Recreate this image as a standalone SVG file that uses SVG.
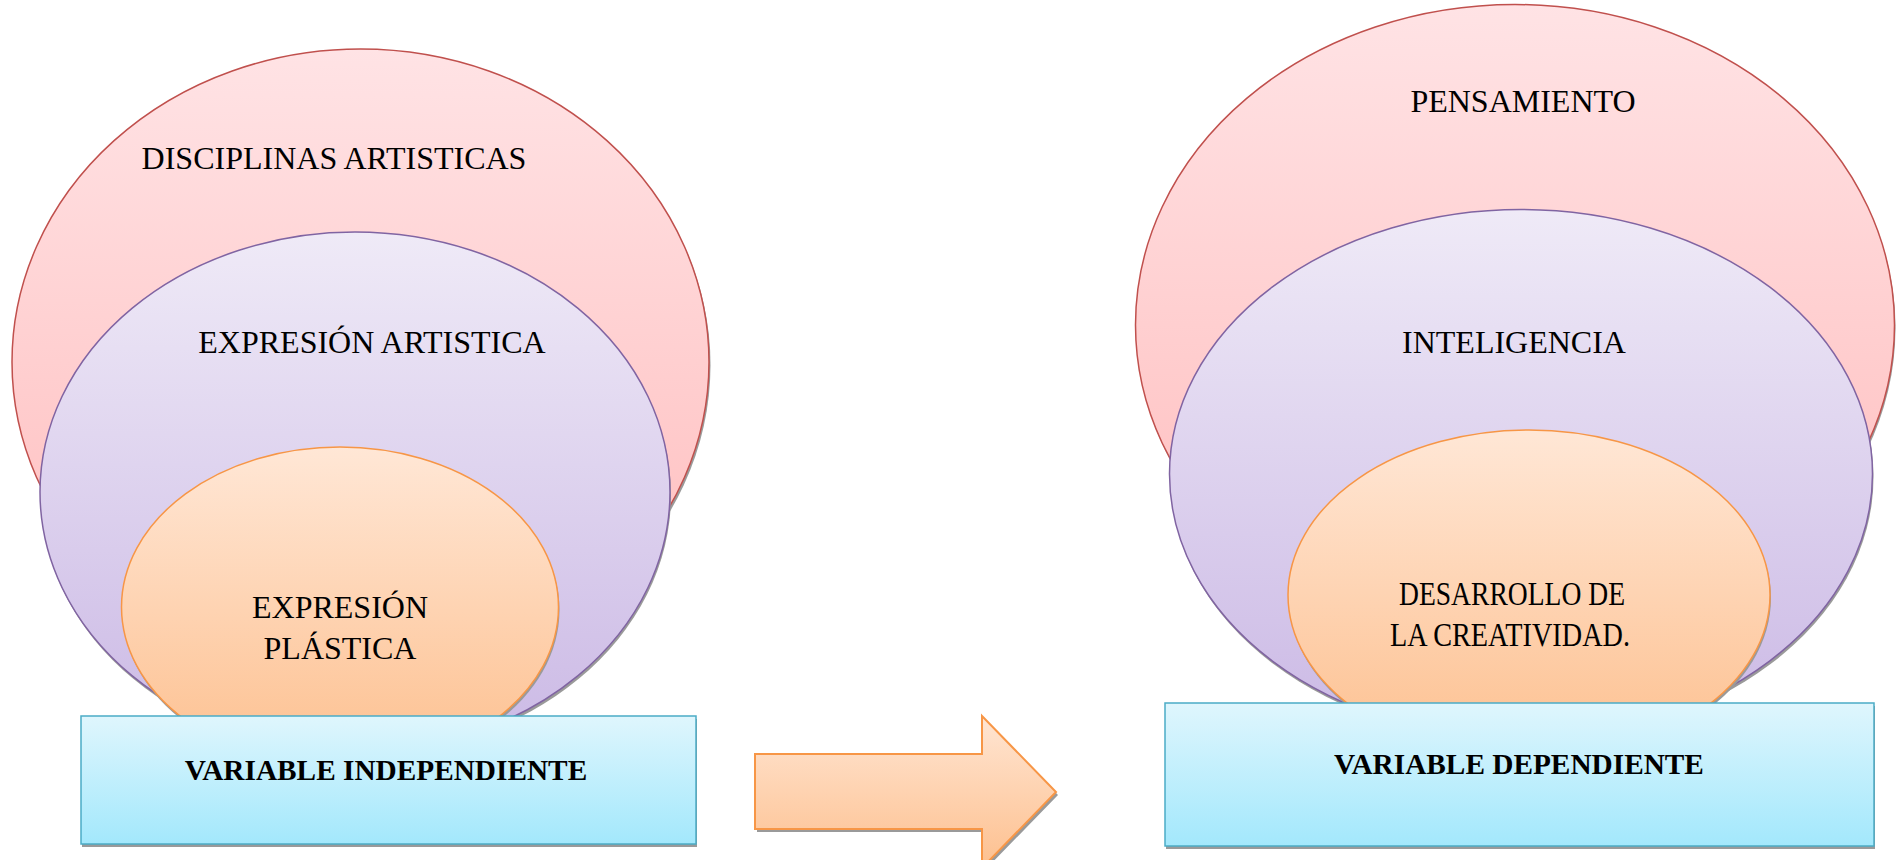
<svg xmlns="http://www.w3.org/2000/svg" width="1904" height="860" viewBox="0 0 1904 860">
<defs>
<linearGradient id="gPink" x1="0" y1="0" x2="0" y2="1"><stop offset="0" stop-color="#FFE3E5"/><stop offset="1" stop-color="#FFBBBB"/></linearGradient>
<linearGradient id="gPurple" x1="0" y1="0" x2="0" y2="1"><stop offset="0" stop-color="#EFEAF7"/><stop offset="1" stop-color="#CBB9E5"/></linearGradient>
<linearGradient id="gOrange" x1="0" y1="0" x2="0" y2="1"><stop offset="0" stop-color="#FFE7D6"/><stop offset="1" stop-color="#FDC08F"/></linearGradient>
<linearGradient id="gBlue" x1="0" y1="0" x2="0" y2="1"><stop offset="0" stop-color="#DFF6FD"/><stop offset="1" stop-color="#A3E8FC"/></linearGradient>
<linearGradient id="gArrow" x1="0" y1="0" x2="0" y2="1"><stop offset="0" stop-color="#FFE5D2"/><stop offset="1" stop-color="#FDC08F"/></linearGradient>
</defs>
<style>
.shadow{fill:#9a9a9a;}
.pink{fill:url(#gPink);stroke:#C0504D;stroke-width:1.5;}
.purple{fill:url(#gPurple);stroke:#8064A2;stroke-width:1.5;}
.orange{fill:url(#gOrange);stroke:#F79646;stroke-width:1.5;}
.box{fill:url(#gBlue);stroke:#4BACC6;stroke-width:1.5;}
.arrow{fill:url(#gArrow);stroke:#F79646;stroke-width:2;}
.lbl{font-family:"Liberation Serif","Times New Roman",serif;font-size:32px;fill:#000;text-anchor:middle;}
.cond{font-size:34px;}
.blbl{font-family:"Liberation Serif","Times New Roman",serif;font-size:29.3px;font-weight:bold;fill:#000;text-anchor:middle;}
</style>
<rect width="1904" height="860" fill="#fff"/>

<g id="disciplinas">
<ellipse class="shadow" cx="362" cy="365" rx="348.5" ry="313"/>
<ellipse class="pink" cx="360.5" cy="362" rx="348.5" ry="313"/>
<text class="lbl" x="334" y="169">DISCIPLINAS ARTISTICAS</text>
</g>
<g id="expresion-artistica">
<ellipse class="shadow" cx="356" cy="495" rx="315" ry="260"/>
<ellipse class="purple" cx="355" cy="492" rx="315" ry="260"/>
<text class="lbl" x="372" y="353">EXPRESIÓN ARTISTICA</text>
</g>
<g id="expresion-plastica">
<ellipse class="shadow" cx="341" cy="610" rx="218.5" ry="160"/>
<ellipse class="orange" cx="340" cy="607" rx="218.5" ry="160"/>
<text class="lbl" x="340" y="618">EXPRESIÓN</text>
<text class="lbl" x="340" y="659">PLÁSTICA</text>
</g>
<g id="variable-independiente">
<rect class="shadow" x="82" y="719" width="615" height="128"/>
<rect class="box" x="81" y="716" width="615" height="128"/>
<text class="blbl" x="386" y="780">VARIABLE INDEPENDIENTE</text>
</g>

<g id="pensamiento">
<ellipse class="shadow" cx="1516" cy="328" rx="379.5" ry="320.5"/>
<ellipse class="pink" cx="1515" cy="325" rx="379.5" ry="320.5"/>
<text class="lbl" x="1523" y="112">PENSAMIENTO</text>
</g>
<g id="inteligencia">
<ellipse class="shadow" cx="1522" cy="477" rx="351.5" ry="264.5"/>
<ellipse class="purple" cx="1521" cy="474" rx="351.5" ry="264.5"/>
<text class="lbl" x="1514" y="353">INTELIGENCIA</text>
</g>
<g id="creatividad">
<ellipse class="shadow" cx="1530" cy="598" rx="241" ry="165"/>
<ellipse class="orange" cx="1529" cy="595" rx="241" ry="165"/>
<text class="lbl cond" x="1512" y="605" textLength="226" lengthAdjust="spacingAndGlyphs">DESARROLLO DE</text>
<text class="lbl cond" x="1510" y="646" textLength="240" lengthAdjust="spacingAndGlyphs">LA CREATIVIDAD.</text>
</g>
<g id="variable-dependiente">
<rect class="shadow" x="1166" y="706" width="709" height="143"/>
<rect class="box" x="1165" y="703" width="709" height="143"/>
<text class="blbl" x="1519" y="774">VARIABLE DEPENDIENTE</text>
</g>

<g id="connectors">
<polygon class="shadow" points="757,757 984,757 984,719 1058,795 984,871 984,832 757,832"/>
<polygon class="arrow" points="755,754 982,754 982,716 1056,792 982,868 982,829 755,829"/>
</g>
</svg>
